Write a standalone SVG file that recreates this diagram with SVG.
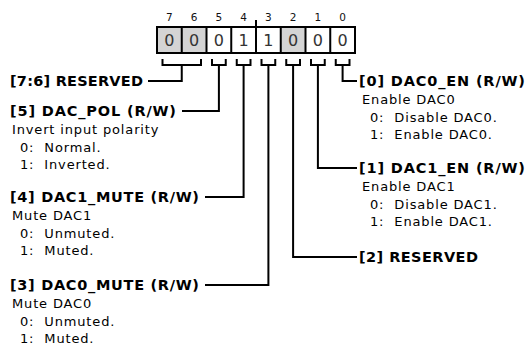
<svg xmlns="http://www.w3.org/2000/svg" width="529" height="354" viewBox="0 0 529 354">
<style>
text{font-family:"DejaVu Sans",Verdana,sans-serif;fill:#000;white-space:pre}
.h{font-weight:bold;font-size:14.5px}
.t{font-size:13px;letter-spacing:0.85px}
.bn{font-size:10.5px;text-anchor:middle;fill:#111}
.d{font-size:16px;text-anchor:middle;fill:#333}
.c{fill:none;stroke:#000;stroke-width:2}
.g{fill:#d4d4d4}
.w{fill:#fff}
</style>
<rect width="529" height="354" fill="#fff"/>
<g id="register">
<text class="bn" x="169.4" y="21">7</text>
<text class="bn" x="194.1" y="21">6</text>
<text class="bn" x="218.9" y="21">5</text>
<text class="bn" x="243.6" y="21">4</text>
<text class="bn" x="268.4" y="21">3</text>
<text class="bn" x="293.1" y="21">2</text>
<text class="bn" x="317.9" y="21">1</text>
<text class="bn" x="342.6" y="21">0</text>
<line class="c" x1="256" y1="20" x2="256" y2="27"/>
<rect class="g" x="157" y="27" width="24.75" height="26"/>
<rect class="g" x="181.75" y="27" width="24.75" height="26"/>
<rect class="w" x="206.5" y="27" width="24.75" height="26"/>
<rect class="w" x="231.25" y="27" width="24.75" height="26"/>
<rect class="w" x="256" y="27" width="24.75" height="26"/>
<rect class="g" x="280.75" y="27" width="24.75" height="26"/>
<rect class="w" x="305.5" y="27" width="24.75" height="26"/>
<rect class="w" x="330.25" y="27" width="24.75" height="26"/>
<rect class="c" x="157" y="27" width="198" height="26"/>
<path class="c" d="M181.75,27V53M206.5,27V53M231.25,27V53M256,27V53M280.75,27V53M305.5,27V53M330.25,27V53"/>
<text class="d" x="169.4" y="46">0</text>
<text class="d" x="194.1" y="46">0</text>
<text class="d" x="218.9" y="46">0</text>
<text class="d" x="243.6" y="46">1</text>
<text class="d" x="268.4" y="46">1</text>
<text class="d" x="293.1" y="46">0</text>
<text class="d" x="317.9" y="46">0</text>
<text class="d" x="342.6" y="46">0</text>
</g>
<g id="connectors">
<path class="c" d="M162.5,59V65H201V59M181.75,65V81H148"/>
<path class="c" d="M212,59V65H225.75V59M218.9,65V111H182"/>
<path class="c" d="M236.75,59V65H250.5V59M243.6,65V197H205"/>
<path class="c" d="M261.5,59V65H275.25V59M268.4,65V285H205"/>
<path class="c" d="M286.25,59V65H300V59M293.1,65V257H357"/>
<path class="c" d="M311,59V65H324.75V59M317.9,65V168H357"/>
<path class="c" d="M335.75,59V65H349.5V59M342.6,65V81H357"/>
</g>
<g id="f76">
<text class="h" x="10" y="86" textLength="133" lengthAdjust="spacing">[7:6] RESERVED</text>
</g>
<g id="f5">
<text class="h" x="10" y="116" textLength="166" lengthAdjust="spacing">[5] DAC_POL (R/W)</text>
<text class="t" x="12" y="134">Invert input polarity</text>
<text class="t" x="20" y="151.5">0:  Normal.</text>
<text class="t" x="20" y="169">1:  Inverted.</text>
</g>
<g id="f4">
<text class="h" x="10" y="202" textLength="189" lengthAdjust="spacing">[4] DAC1_MUTE (R/W)</text>
<text class="t" x="12" y="220">Mute DAC1</text>
<text class="t" x="20" y="237.5">0:  Unmuted.</text>
<text class="t" x="20" y="255">1:  Muted.</text>
</g>
<g id="f3">
<text class="h" x="10" y="290" textLength="189" lengthAdjust="spacing">[3] DAC0_MUTE (R/W)</text>
<text class="t" x="12" y="308">Mute DAC0</text>
<text class="t" x="20" y="325.5">0:  Unmuted.</text>
<text class="t" x="20" y="343">1:  Muted.</text>
</g>
<g id="f2">
<text class="h" x="359" y="262" textLength="119" lengthAdjust="spacing">[2] RESERVED</text>
</g>
<g id="f1">
<text class="h" x="359" y="173" textLength="166" lengthAdjust="spacing">[1] DAC1_EN (R/W)</text>
<text class="t" x="362" y="191">Enable DAC1</text>
<text class="t" x="370" y="208.5">0:  Disable DAC1.</text>
<text class="t" x="370" y="226">1:  Enable DAC1.</text>
</g>
<g id="f0">
<text class="h" x="359" y="86" textLength="166" lengthAdjust="spacing">[0] DAC0_EN (R/W)</text>
<text class="t" x="362" y="104">Enable DAC0</text>
<text class="t" x="370" y="121.5">0:  Disable DAC0.</text>
<text class="t" x="370" y="139">1:  Enable DAC0.</text>
</g>
</svg>
